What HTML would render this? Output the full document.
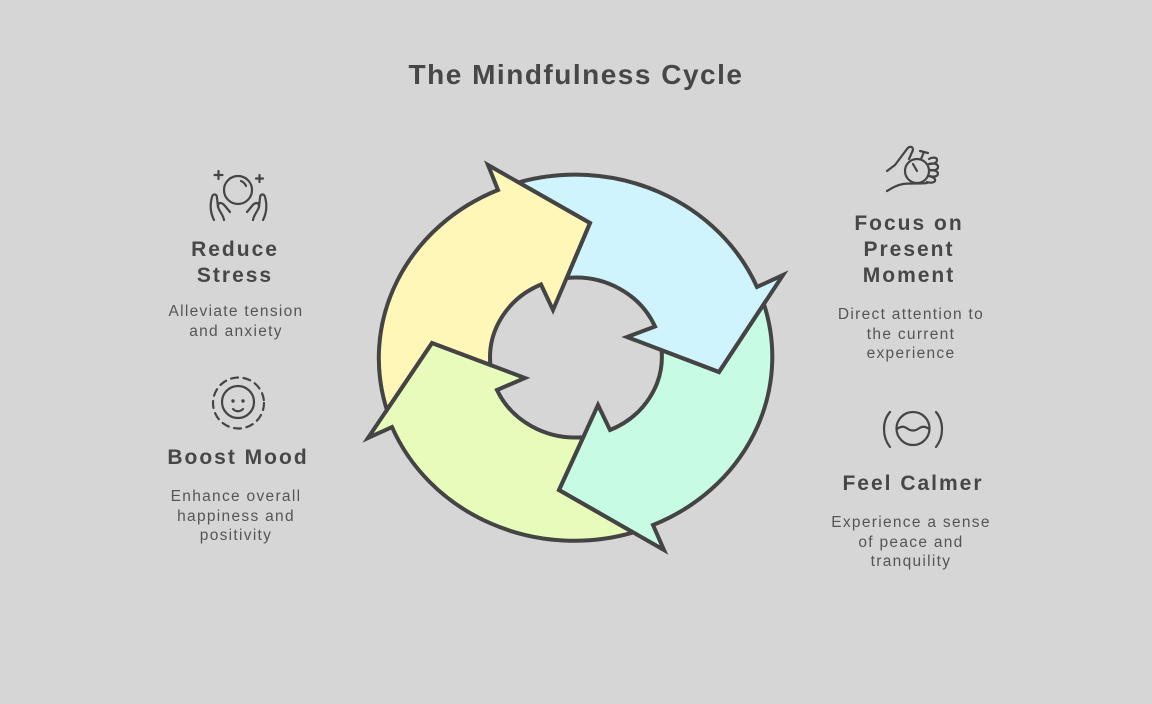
<!DOCTYPE html>
<html>
<head>
<meta charset="utf-8">
<style>
  html, body { margin: 0; padding: 0; background: #d6d6d6; }
  svg { display: block; }
  .h { font-family: "Liberation Sans", sans-serif; font-weight: bold; fill: #474747; }
  .d { font-family: "Liberation Sans", sans-serif; fill: #555555; }
</style>
</head>
<body>
<svg width="1152" height="704" viewBox="0 0 1152 704" xmlns="http://www.w3.org/2000/svg">
  <rect width="1152" height="704" fill="#d6d6d6"/>

  <!-- Title -->
  <text class="h" x="576" y="84" font-size="28" letter-spacing="1.5" text-anchor="middle">The Mindfulness Cycle</text>

  <!-- Cycle fills -->
  <g stroke="none">
    <path fill="#fff7b8" d="M386.9,410 A197,183 0 0 1 498,190 L488,165 L590,223 L553,310 L541,284.5 A86,80 0 0 0 490.4,365 L432,343 Z"/>
    <path fill="#d0f4fe" d="M518.6,182.4 A197,183 0 0 1 757,287 L783,275 L719,372 L627,337 L655,326.5 A86,80 0 0 0 566.8,278 L590,223 Z"/>
    <path fill="#c7fbe3" d="M763.9,304 A197,183 0 0 1 653,525 L664,550 L559,490 L598,405 L610,430 A86,80 0 0 0 661.6,350.2 L719,372 Z"/>
    <path fill="#e7fcbb" d="M633.2,532.4 A197,183 0 0 1 392,427 L368,438 L432,343 L525,378 L497,390 A86,80 0 0 0 583.3,437.2 L559,490 Z"/>
  </g>
  <!-- Cycle strokes -->
  <g fill="none" stroke="#444444" stroke-width="4" stroke-linejoin="miter" stroke-miterlimit="6">
    <path d="M386.9,410 A197,183 0 0 1 498,190 L488,165 L590,223 L553,310 L541,284.5 A86,80 0 0 0 490.4,365 L432,343 Z"/>
    <path d="M518.6,182.4 A197,183 0 0 1 757,287 L783,275 L719,372 L627,337 L655,326.5 A86,80 0 0 0 566.8,278 L590,223 Z"/>
    <path d="M763.9,304 A197,183 0 0 1 653,525 L664,550 L559,490 L598,405 L610,430 A86,80 0 0 0 661.6,350.2 L719,372 Z"/>
    <path d="M633.2,532.4 A197,183 0 0 1 392,427 L368,438 L432,343 L525,378 L497,390 A86,80 0 0 0 583.3,437.2 L559,490 Z"/>
  </g>

  <!-- Icon: Reduce Stress -->
  <g fill="none" stroke="#454545" stroke-width="2.2" stroke-linecap="round" stroke-linejoin="round">
    <circle cx="238" cy="190" r="14"/>
    <path d="M241,181 A9,9 0 0 1 246,186"/>
    <path d="M218.5,171 V179 M214.5,175 H222.5"/>
    <path d="M259.5,175 V182 M256,178.5 H263"/>
    <path d="M214,220 C210,212 210,204 212,197 C213,193 217,194 217,198 L218,207"/>
    <path d="M224,220 C223,214 218,210 218,206 C218,202 222,202 225,206 L230,212"/>
    <path d="M263,220 C267,212 267,204 265,197 C264,193 260,194 260,198 L259,207"/>
    <path d="M253,220 C254,214 259,210 259,206 C259,202 255,202 252,206 L247,212"/>
  </g>

  <!-- Icon: Focus on Present Moment -->
  <g fill="none" stroke="#454545" stroke-width="2.2" stroke-linecap="round" stroke-linejoin="round">
    <circle cx="917" cy="171" r="12"/>
    <path d="M913,164 L917,171"/>
    <path d="M921,159 L924,152 M920,151 L928,153"/>
    <path d="M887,171 L895,165 L907,149 C909,146 913,146 913,150 L909,159"/>
    <path d="M929,159 C932,157 937,157 937,160 C937,163 933,164 929,164"/>
    <path d="M929,164 C932,163 938,163 938,167 C938,170 933,171 929,170"/>
    <path d="M929,170 C932,170 938,170 938,174 C937,177 933,177 929,176"/>
    <path d="M929,176 C932,177 936,178 935,181 C934,183 929,183 927,182"/>
    <path d="M887,191 C892,188 897,185 903,184 C910,183 918,184 927,183"/>
  </g>

  <!-- Icon: Boost Mood -->
  <g fill="none" stroke="#454545" stroke-width="2.2" stroke-linecap="round">
    <circle cx="238.5" cy="403" r="25.5" stroke-dasharray="7 5.5"/>
    <circle cx="238" cy="402" r="16"/>
    <path d="M233,409 C236,412 240,412 243,409"/>
  </g>
  <g fill="#454545">
    <circle cx="233" cy="401" r="1.7"/>
    <circle cx="243" cy="401" r="1.7"/>
  </g>

  <!-- Icon: Feel Calmer -->
  <g fill="none" stroke="#454545" stroke-width="2.2" stroke-linecap="round">
    <circle cx="913" cy="428.5" r="16.5"/>
    <path d="M897,429 C901,426 904,426 908,429 C911,431 915,431 918,429 C922,426 925,426 929,429"/>
    <path d="M890,412 C882,421 882,437 890,447"/>
    <path d="M936,412 C944,421 944,437 936,447"/>
  </g>

  <!-- Left top: Reduce Stress -->
  <text class="h" x="235" y="256" font-size="21" letter-spacing="2" text-anchor="middle">Reduce</text>
  <text class="h" x="235" y="282" font-size="21" letter-spacing="2" text-anchor="middle">Stress</text>
  <text class="d" x="236" y="316" font-size="15.5" letter-spacing="1.3" text-anchor="middle">Alleviate tension</text>
  <text class="d" x="236" y="336" font-size="15.5" letter-spacing="1.3" text-anchor="middle">and anxiety</text>

  <!-- Right top: Focus on Present Moment -->
  <text class="h" x="909" y="230" font-size="21" letter-spacing="2" text-anchor="middle">Focus on</text>
  <text class="h" x="909" y="256" font-size="21" letter-spacing="2" text-anchor="middle">Present</text>
  <text class="h" x="909" y="282" font-size="21" letter-spacing="2" text-anchor="middle">Moment</text>
  <text class="d" x="911" y="319" font-size="15.5" letter-spacing="1.3" text-anchor="middle">Direct attention to</text>
  <text class="d" x="911" y="339" font-size="15.5" letter-spacing="1.3" text-anchor="middle">the current</text>
  <text class="d" x="911" y="358" font-size="15.5" letter-spacing="1.3" text-anchor="middle">experience</text>

  <!-- Left bottom: Boost Mood -->
  <text class="h" x="238" y="464" font-size="21" letter-spacing="2" text-anchor="middle">Boost Mood</text>
  <text class="d" x="236" y="501" font-size="15.5" letter-spacing="1.3" text-anchor="middle">Enhance overall</text>
  <text class="d" x="236" y="521" font-size="15.5" letter-spacing="1.3" text-anchor="middle">happiness and</text>
  <text class="d" x="236" y="540" font-size="15.5" letter-spacing="1.3" text-anchor="middle">positivity</text>

  <!-- Right bottom: Feel Calmer -->
  <text class="h" x="913" y="490" font-size="21" letter-spacing="2" text-anchor="middle">Feel Calmer</text>
  <text class="d" x="911" y="527" font-size="15.5" letter-spacing="1.3" text-anchor="middle">Experience a sense</text>
  <text class="d" x="911" y="547" font-size="15.5" letter-spacing="1.3" text-anchor="middle">of peace and</text>
  <text class="d" x="911" y="566" font-size="15.5" letter-spacing="1.3" text-anchor="middle">tranquility</text>
</svg>
</body>
</html>
